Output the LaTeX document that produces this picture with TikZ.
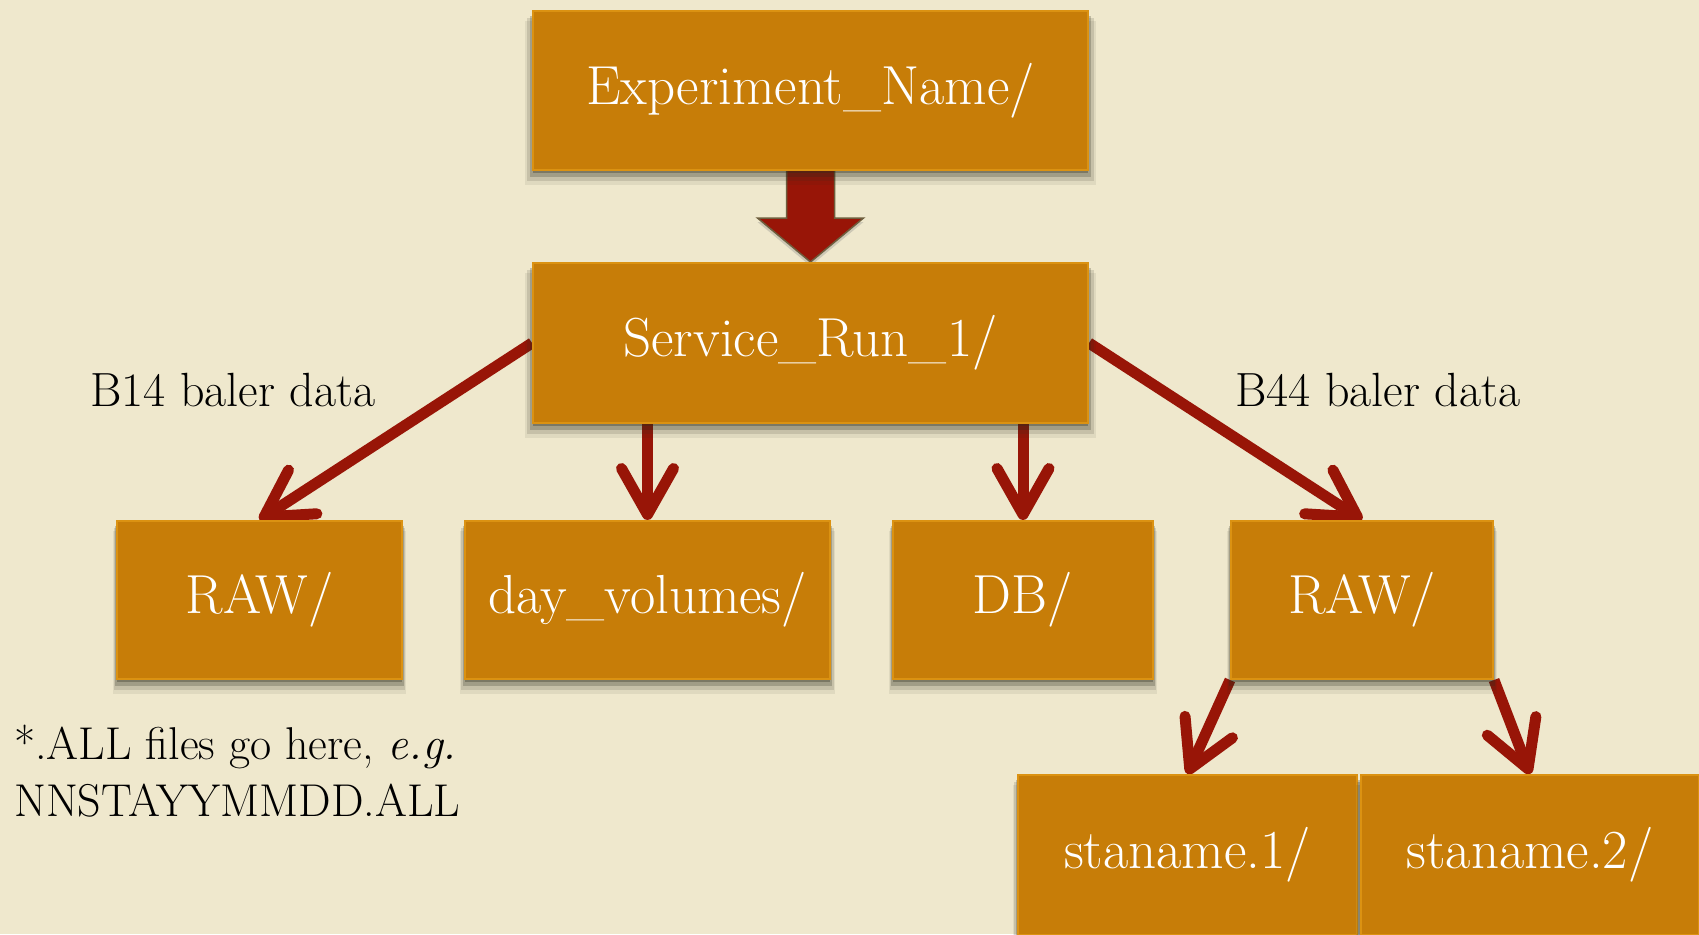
\documentclass[tikz,border=0pt]{standalone}
\usetikzlibrary{arrows.meta,shadows,calc}
\definecolor{bgcol}{HTML}{EFE8CD}
\definecolor{boxfill}{HTML}{C77D08}
\definecolor{boxedge}{HTML}{DB9212}
\definecolor{arrowred}{HTML}{981507}
\definecolor{arrowedge}{HTML}{6E5E3E}
\definecolor{shadowcol}{HTML}{2E2E1E}
\pgfdeclarelayer{bglayer}
\pgfdeclarelayer{connlayer}
\pgfsetlayers{bglayer,connlayer,main}
\begin{document}
\begin{tikzpicture}[x=1pt,y=-1pt,
  softshadow/.style={
    drop shadow={shadow xshift=0pt,shadow yshift=-3pt,opacity=0.32,fill=shadowcol},
    drop shadow={shadow xshift=0pt,shadow yshift=-6pt,shadow scale=1.012,opacity=0.24,fill=shadowcol},
    drop shadow={shadow xshift=0pt,shadow yshift=-9pt,shadow scale=1.022,opacity=0.14,fill=shadowcol},
    drop shadow={shadow xshift=0pt,shadow yshift=-12pt,shadow scale=1.03,opacity=0.08,fill=shadowcol}},
  folder/.style={draw=boxedge, line width=2pt, fill=boxfill, text=white,
    font=\fontsize{55}{60}\selectfont, inner sep=0pt, softshadow},
  lbl/.style={text=black, font=\fontsize{48}{56}\selectfont, inner sep=0pt},
  notelbl/.style={text=black, font=\fontsize{46}{57}\selectfont, inner sep=0pt},
  link/.style={draw=arrowred, line width=11pt,
    -{Straight Barb[length=46pt,width=52pt,round]}},
  bigarrow/.style={fill=arrowred, draw=arrowedge, line width=1.5pt, line join=miter}
]
\useasboundingbox (0,0) rectangle (1699,934);
\begin{pgfonlayer}{bglayer}
\fill[bgcol] (0,0) rectangle (1699,934);
\end{pgfonlayer}

\node[folder, minimum width=555pt, minimum height=159pt] (exp) at (810.5,90.5) {Experiment\_Name/};
\node[folder, minimum width=555pt, minimum height=160pt] (svc) at (810.5,343) {Service\_Run\_1/};
\node[folder, minimum width=285pt, minimum height=158pt] (rawl) at (259.5,600) {RAW/};
\node[folder, minimum width=365pt, minimum height=158pt] (dayv) at (647.5,600) {day\_volumes/};
\node[folder, minimum width=260pt, minimum height=158pt] (db) at (1023,600) {DB/};
\node[folder, minimum width=262pt, minimum height=158pt] (rawr) at (1362,600) {RAW/};
\node[folder, minimum width=339pt, minimum height=160pt] (sta1) at (1187.5,855) {staname.1/};
\node[folder, minimum width=338pt, minimum height=160pt] (sta2) at (1530,855) {staname.2/};

\node[lbl] (b14) at (233,390) {B14 baler data};
\node[lbl] (b44) at (1378,390) {B44 baler data};
\node[notelbl, anchor=north west, align=left] (note) at (14,725) {*.ALL files go here, \textit{e.g.}\\NNSTAYYMMDD.ALL};

\begin{pgfonlayer}{connlayer}
\draw[link] (svc.west) -- (rawl.north);
\draw[link] (svc.south -| dayv.north) -- (dayv.north);
\draw[link] (svc.south -| db.north) -- (db.north);
\draw[link] (svc.east) -- (rawr.north);
\draw[link] (rawr.south west) -- (sta1.north);
\draw[link] (rawr.south east) -- (sta2.north);
\draw[bigarrow, drop shadow={shadow xshift=0pt, shadow yshift=-4pt, opacity=0.3}]
  ($(exp.south)+(-24,-4)$) -- ($(exp.south)+(24,-4)$) -- ($(exp.south)+(24,47)$)
  -- ($(exp.south)+(53,47)$) -- (svc.north) -- ($(exp.south)+(-53,47)$)
  -- ($(exp.south)+(-24,47)$) -- cycle;
\end{pgfonlayer}
\end{tikzpicture}
\end{document}
